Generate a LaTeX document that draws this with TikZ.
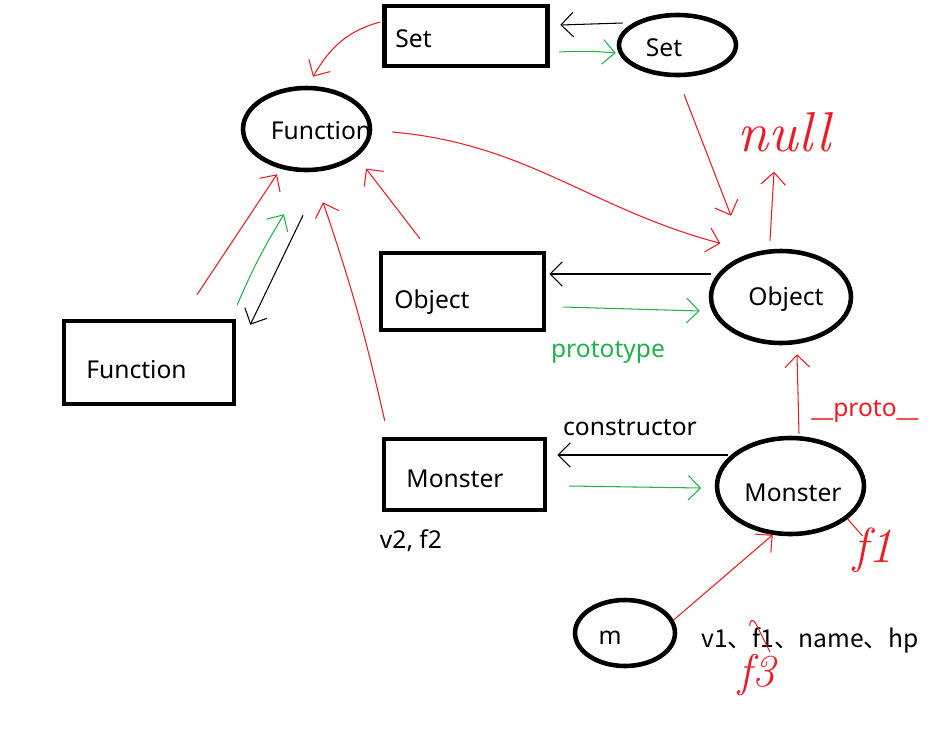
\documentclass[tikz,border=0pt]{standalone}
\usepackage{fontspec}
\setsansfont{Noto Sans}
\newfontfamily\cjk{Noto Sans CJK SC}
\usetikzlibrary{shapes.geometric,arrows.meta}
\definecolor{pred}{RGB}{237,28,36}
\definecolor{pgreen}{RGB}{34,177,76}
\begin{document}
\begin{tikzpicture}[x=0.02cm, y=-0.02cm,
  font=\sffamily\fontsize{14}{16}\selectfont,
  box/.style={draw, line width=2.6pt, inner sep=0pt},
  oval/.style={draw, ellipse, line width=2.6pt, inner sep=0pt},
  tip/.style={-{Straight Barb[length=7pt,width=14pt]}},
  rl/.style={pred, line width=0.6pt},
  gl/.style={pgreen, line width=0.6pt},
  bl/.style={black, line width=0.6pt},
  hand/.style={pred, inner sep=2pt, font=\rmfamily\itshape\fontsize{#1}{#1}\selectfont}]
\useasboundingbox (0,0) rectangle (941,738);
% boxes and ovals
\node[box, minimum width=3.26cm, minimum height=1.2cm, label={[xshift=-1.05cm, yshift=-0.05cm]center:Set}] (SetF) at (466,36) {};
\node[oval, minimum width=2.34cm, minimum height=1.2cm, label={[xshift=-0.27cm, yshift=-0.05cm]center:Set}] (SetO) at (677.5,45) {};
\node[oval, minimum width=2.54cm, minimum height=1.64cm, label={[xshift=0.29cm, yshift=-0.04cm]center:Function}] (FunO) at (306.5,129) {};
\node[box, minimum width=3.4cm, minimum height=1.66cm, label={[xshift=-0.25cm, yshift=-0.14cm]center:Function}] (FunR) at (149,362.5) {};
\node[box, minimum width=3.26cm, minimum height=1.54cm, label={[xshift=-0.61cm, yshift=-0.22cm]center:Object}] (ObjR) at (462.5,291.5) {};
\node[oval, minimum width=2.8cm, minimum height=1.84cm, label={[xshift=0.1cm, yshift=-0.04cm]center:Object}] (ObjO) at (781,297) {};
\node[box, minimum width=3.22cm, minimum height=1.42cm, label={[xshift=-0.19cm, yshift=-0.09cm]center:Monster}] (MonR) at (464.5,474.5) {};
\node[oval, minimum width=2.94cm, minimum height=1.92cm, label={[xshift=0.05cm, yshift=-0.13cm]center:Monster}] (MonO) at (790.5,486) {};
\node[oval, minimum width=2cm, minimum height=1.32cm, label={[xshift=-0.3cm, yshift=-0.1cm]center:m}] (mO) at (625,633) {};
% texts
\node (v2) at (411,541) {v2, f2};
\node (ctor) at (630,428) {constructor};
\node[pgreen] (ptype) at (608,352) {prototype};
\node[pred] (dproto) at (865,411) {\_\_proto\_\_};
\node (vars) at (810,640) {\cjk v1、f1、name、hp};
\node[hand=32] (null) at (784,132) {null};
\node[hand=28] (f1) at (873,550) {f1};
\node[hand=26] (f3) at (757,675) {f3};
% Set
\draw[bl, tip] ([shift={(6,-22)}]SetO.west) -- ([shift={(10.5,-11)}]SetF.east);
\draw[gl, tip] ([shift={(9.5,16)}]SetF.east) to[bend left=4] ([shift={(-1,8)}]SetO.west);
\draw[rl, tip] ([shift={(-2,-14)}]SetF.west) to[out=195, in=60] ([shift={(6.5,-9)}]FunO.north);
\draw[rl, tip] ([shift={(6.5,17)}]SetO.south) -- ([shift={(-50,-33)}]ObjO.north);
% Function
\draw[rl, tip] ([shift={(20,3)}]FunO.east) to[out=-5, in=165] ([shift={(-9.5,-19.5)}]ObjO.north west);
\draw[rl, tip] ([shift={(48,-24)}]FunR.north) -- ([shift={(-29.5,2)}]FunO.south);
\draw[gl, tip] ([shift={(1,-14)}]FunR.north east) to[bend left=4] ([shift={(-22.5,42)}]FunO.south);
\draw[bl, tip] ([shift={(-3.5,43)}]FunO.south) -- ([shift={(14,6)}]FunR.north east);
\draw[rl, tip] ([shift={(3,-16)}]MonR.north west) to[bend right=3] ([shift={(16.5,30)}]FunO.south);
\draw[rl, tip] ([shift={(-42.5,-12)}]ObjR.north) -- ([shift={(13,9)}]FunO.south east);
% Object
\draw[rl, tip] ([shift={(-11,-8)}]ObjO.north) -- ([shift={(-10,16)}]null.south);
\draw[bl, tip] ([shift={(2,-23)}]ObjO.west) -- ([shift={(3,-17.5)}]ObjR.east);
\draw[gl, tip] ([shift={(17,15.5)}]ObjR.east) -- ([shift={(-9,14)}]ObjO.west);
% Monster
\draw[bl, tip] ([shift={(13.5,-31)}]MonO.west) -- ([shift={(10,-19.5)}]MonR.east);
\draw[gl, tip] ([shift={(22,11.5)}]MonR.east) -- ([shift={(-13.5,2)}]MonO.west);
\draw[rl, tip] ([shift={(8.5,-2)}]MonO.north) -- ([shift={(16,9)}]ObjO.south);
\draw[rl, tip] (mO.15) -- (MonO.250);
\draw[rl] (MonO.330) -- ([shift={(13,12)}]f1.north west);
\draw[rl] (750,626) .. controls (749,619) and (754,619) .. (756,624) -- (770,652);
\end{tikzpicture}
\end{document}
